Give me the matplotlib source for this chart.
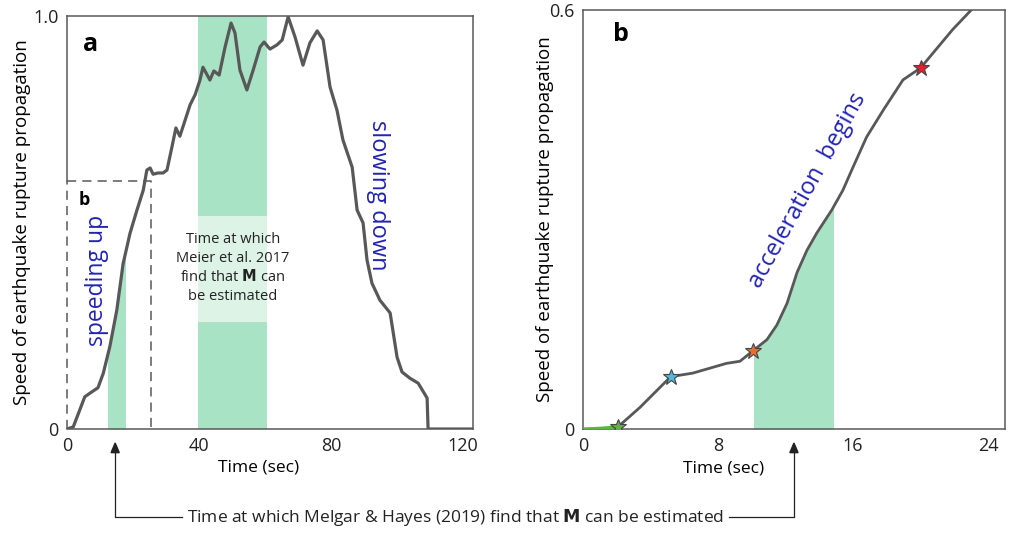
import matplotlib.pyplot as plt
from matplotlib.patches import Rectangle

plt.rcParams["font.family"] = ["Open Sans", "DejaVu Sans"]

# panel a: whole rupture
time_a = [0, 1.9, 5.4, 7.0, 9.4, 11.0, 13.0, 15.1, 17.0, 19.1, 21.2, 23.1, 24.2, 25.2, 26.1,
          27.6, 29.1, 30.3, 31.8, 33.0, 34.2, 35.8, 37.3, 38.8, 40.3, 41.2, 43.3, 44.5,
          46.1, 47.9, 49.7, 50.9, 52.4, 54.5, 56.4, 58.5, 59.7, 61.5, 63.6, 65.2, 67.0,
          69.1, 71.5, 73.6, 75.8, 77.6, 79.7, 81.8, 83.6, 86.4, 87.9, 89.7, 90.9, 92.4,
          94.8, 97.9, 100.0, 101.5, 103.9, 106.4, 109.1, 109.4, 123.0]
speed_a = [0, 0.005, 0.078, 0.087, 0.10, 0.135, 0.20, 0.288, 0.40, 0.474, 0.53, 0.578, 0.627,
           0.632, 0.617, 0.62, 0.62, 0.627, 0.683, 0.729, 0.709, 0.748, 0.785, 0.809, 0.845,
           0.876, 0.845, 0.867, 0.857, 0.925, 0.983, 0.959, 0.869, 0.821, 0.869, 0.925,
           0.937, 0.92, 0.93, 0.942, 0.998, 0.949, 0.881, 0.935, 0.964, 0.942, 0.828, 0.772,
           0.70, 0.634, 0.53, 0.499, 0.409, 0.353, 0.312, 0.281, 0.174, 0.138, 0.123, 0.111,
           0.075, 0.0, 0.0]

# panel b: first 25 s
time_b = [0, 1.0, 2.07, 3.38, 5.2, 6.5, 8.5, 9.3, 10.07, 10.9, 11.49, 12.09, 12.68, 13.27,
          13.86, 14.75, 15.4, 16.0, 16.8, 17.8, 18.96, 20.0, 21.9, 23.0]
speed_b = [0, 0.001, 0.003, 0.031, 0.075, 0.080, 0.094, 0.097, 0.112, 0.128, 0.149, 0.18,
           0.224, 0.256, 0.281, 0.314, 0.342, 0.375, 0.418, 0.457, 0.50, 0.517, 0.572, 0.60]

star_t = [2.07, 5.2, 10.07, 20.0]
star_v = [0.003, 0.075, 0.112, 0.517]
star_colors = ["#5cb443", "#4fb9d6", "#f26b2e", "#e3232b"]

melgar_a = (12.4, 17.6)
meier_a = (39.7, 60.6)
melgar_b = (10.15, 14.8)

line_col = "#585858"
green = "#a9e3c5"
light_green = "#dcf3e6"
blue = "#2323b4"

fig = plt.figure(figsize=(10.24, 5.36), dpi=100)
ax1 = fig.add_axes([0.0654, 0.1996, 0.3965, 0.7705])
ax2 = fig.add_axes([0.5693, 0.1996, 0.4121, 0.7817])

# ---- panel a ----
ax1.axvspan(*meier_a, color=green, lw=0, zorder=1)
ax1.add_patch(Rectangle((meier_a[0], 0.259), meier_a[1] - meier_a[0], 0.257,
                        color=light_green, lw=0, zorder=1.5))
fill = ax1.fill_between(time_a, 0, speed_a, color=green, lw=0, zorder=1)
fill.set_clip_path(Rectangle((melgar_a[0], 0), melgar_a[1] - melgar_a[0], 1.0,
                             transform=ax1.transData))
ax1.plot(time_a, speed_a, color=line_col, lw=2.3, zorder=3, solid_joinstyle="round")

# dashed box marking panel b
ax1.plot([0, 25.5, 25.5], [0.6, 0.6, 0], color=line_col, lw=1.1, ls=(0, (6, 4)), zorder=2)
ax1.plot([0, 0], [0, 0.6], color=line_col, lw=1.1, ls=(0, (6, 4)), zorder=2, clip_on=False)
ax1.spines["left"].set_bounds(0.6, 1.0)

ax1.set_xlim(0, 123)
ax1.set_ylim(0, 1.0)
ax1.set_xticks([0, 40, 80, 120])
ax1.set_yticks([0, 1.0])
ax1.set_yticklabels(["0", "1.0"])
ax1.set_xlabel("Time (sec)", fontsize=12.5)
ax1.set_ylabel("Speed of earthquake rupture propagation", fontsize=13.5)
ax1.xaxis.set_label_coords(0.473, -0.075)
ax1.yaxis.set_label_coords(-0.089, 0.5)

ax1.text(5, 0.93, "a", fontsize=18, fontweight="bold", va="center")
ax1.text(3.5, 0.555, "b", fontsize=13, fontweight="bold", va="center")
ax1.text(9.1, 0.36, "speeding up", rotation=90, color=blue, fontsize=16.5,
         ha="center", va="center")
ax1.text(94.2, 0.565, "slowing down", rotation=-90, color=blue, fontsize=17,
         ha="center", va="center")
ax1.text(50.2, 0.39, "Time at which\nMeier et al. 2017\nfind that $\\mathbf{M}$ can\nbe estimated",
         fontsize=10.5, color="#222222", ha="center", va="center", linespacing=1.3)

# ---- panel b ----
fill_b = ax2.fill_between(time_b, 0, speed_b, color=green, lw=0, zorder=1)
fill_b.set_clip_path(Rectangle((melgar_b[0], 0), melgar_b[1] - melgar_b[0], 1.0,
                               transform=ax2.transData))
ax2.plot(time_b[:3], speed_b[:3], color="#5cb443", lw=2.3, zorder=3)
ax2.plot(time_b[2:], speed_b[2:], color=line_col, lw=2.0, zorder=3, solid_joinstyle="round")
for t, v, c in zip(star_t, star_v, star_colors):
    ax2.plot(t, v, marker="*", ms=12, color=c, mec="#444444", mew=0.8, zorder=4)

ax2.set_xlim(0, 25)
ax2.set_ylim(0, 0.6)
ax2.set_xticks([0, 8, 16, 24])
ax2.set_yticks([0, 0.6])
ax2.set_yticklabels(["0", "0.6"])
ax2.set_xlabel("Time (sec)", fontsize=12.5)
ax2.set_ylabel("Speed of earthquake rupture propagation", fontsize=13.5)
ax2.xaxis.set_label_coords(0.334, -0.075)
ax2.yaxis.set_label_coords(-0.069, 0.5)

ax2.text(1.8, 0.565, "b", fontsize=18, fontweight="bold", va="center")
ax2.text(13.3, 0.342, "acceleration  begins", rotation=61, color=blue, fontsize=17,
         ha="center", va="center")

for ax in (ax1, ax2):
    for s in ax.spines.values():
        s.set_color(line_col)
        s.set_linewidth(1.1)
    ax.tick_params(length=0, labelsize=13, pad=6, colors="#222222")

# ---- shared note below both panels ----
y_note = 1 - 517 / 536
x_a = ax1.transData.transform((14.6, 0))[0] / fig.dpi / fig.get_figwidth()
x_b = ax2.transData.transform((12.5, 0))[0] / fig.dpi / fig.get_figwidth()
y_tip = 1 - 443 / 536
fig.text(0.4445, y_note, "Time at which Melgar & Hayes (2019) find that $\\mathbf{M}$ can be estimated",
         fontsize=12.5, ha="center", va="center", color="#222222")
fig.add_artist(plt.Line2D([x_a, x_a, 0.178], [y_tip - 0.01, y_note, y_note], color="#222222", lw=0.9))
fig.add_artist(plt.Line2D([0.712, x_b, x_b], [y_note, y_note, y_tip - 0.01], color="#222222", lw=0.9))
fig.patches.append(plt.Polygon([[x_a - 0.004, y_tip - 0.018], [x_a + 0.004, y_tip - 0.018], [x_a, y_tip]],
                               closed=True, color="#222222", transform=fig.transFigure))
fig.patches.append(plt.Polygon([[x_b - 0.004, y_tip - 0.018], [x_b + 0.004, y_tip - 0.018], [x_b, y_tip]],
                               closed=True, color="#222222", transform=fig.transFigure))

fig.savefig("out.png", dpi=100)
